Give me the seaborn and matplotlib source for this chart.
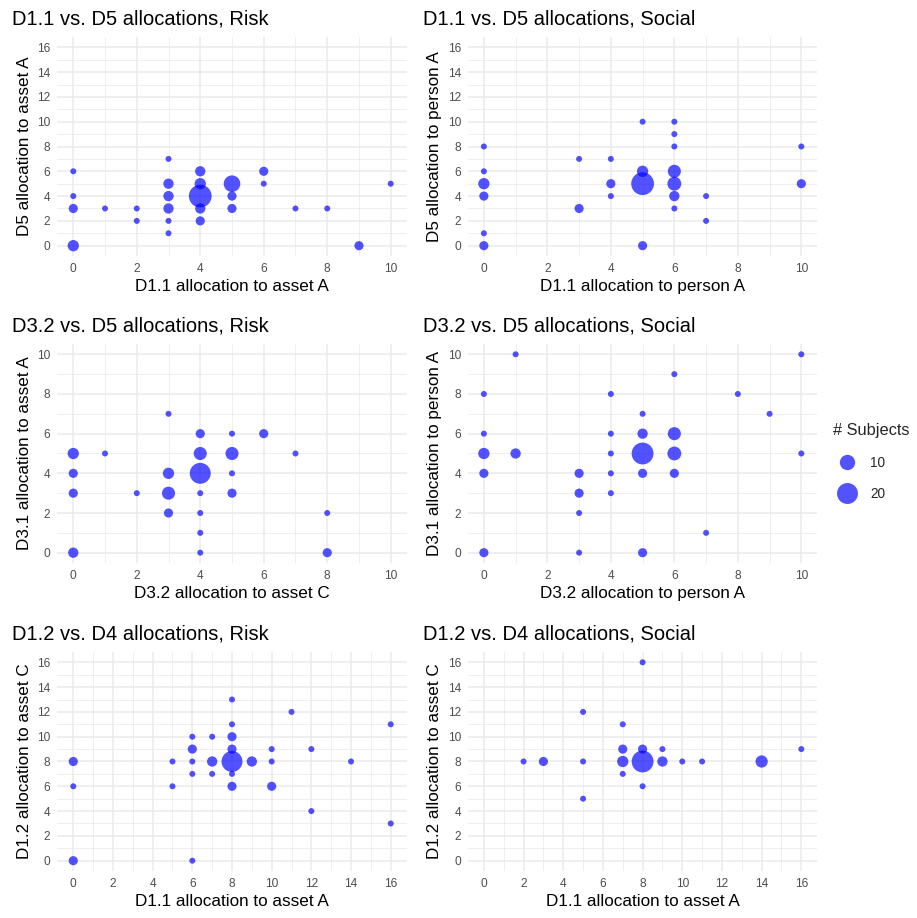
import numpy as np
import pandas as pd
import matplotlib
matplotlib.use("Agg")
import matplotlib.pyplot as plt
from matplotlib.lines import Line2D
import seaborn as sns

# Panel data: x, y, number of subjects at each point
risk_d11_d5_x = [0, 0, 0, 0, 1, 2, 2, 3, 3, 3, 3, 3, 3, 4, 4, 4, 4, 4, 5, 5, 5, 6, 6, 7, 8, 9, 10]
risk_d11_d5_y = [6, 4, 3, 0, 3, 3, 2, 7, 5, 4, 3, 2, 1, 6, 5, 4, 3, 2, 5, 4, 3, 6, 5, 3, 3, 0, 5]
risk_d11_d5_n = [1, 1, 3, 5, 1, 1, 1, 1, 4, 4, 4, 1, 1, 4, 5, 24, 4, 3, 12, 3, 3, 3, 1, 1, 1, 3, 1]

soc_d11_d5_x = [0, 0, 0, 0, 0, 0, 3, 3, 4, 4, 4, 5, 5, 5, 5, 6, 6, 6, 6, 6, 6, 6, 7, 7, 10, 10]
soc_d11_d5_y = [8, 6, 5, 4, 1, 0, 7, 3, 7, 5, 4, 10, 6, 5, 0, 10, 9, 8, 6, 5, 4, 3, 4, 2, 8, 5]
soc_d11_d5_n = [1, 1, 5, 3, 1, 3, 1, 3, 1, 3, 1, 1, 5, 24, 3, 1, 1, 1, 7, 8, 4, 1, 1, 1, 1, 3]

risk_d32_d31_x = [0, 0, 0, 0, 1, 2, 3, 3, 3, 3, 4, 4, 4, 4, 4, 4, 4, 5, 5, 5, 5, 6, 7, 8, 8]
risk_d32_d31_y = [5, 4, 3, 0, 5, 3, 7, 4, 3, 2, 6, 5, 4, 3, 2, 1, 0, 6, 5, 4, 3, 6, 5, 2, 0]
risk_d32_d31_n = [5, 3, 3, 4, 1, 1, 1, 5, 7, 3, 3, 7, 20, 1, 1, 1, 1, 1, 7, 1, 3, 3, 1, 1, 3]

soc_d32_d31_x = [0, 0, 0, 0, 0, 1, 1, 3, 3, 3, 3, 4, 4, 4, 4, 4, 5, 5, 5, 5, 5, 6, 6, 6, 6, 7, 8, 9, 10, 10]
soc_d32_d31_y = [8, 6, 5, 4, 0, 10, 5, 4, 3, 2, 0, 8, 6, 5, 4, 3, 7, 6, 5, 4, 0, 9, 6, 5, 4, 1, 8, 7, 10, 5]
soc_d32_d31_n = [1, 1, 5, 3, 3, 1, 4, 3, 3, 1, 1, 1, 1, 1, 1, 1, 1, 4, 22, 3, 3, 1, 7, 8, 3, 1, 1, 1, 1, 1]

risk_d11_d12_x = [0, 0, 0, 5, 5, 6, 6, 6, 6, 6, 7, 7, 7, 8, 8, 8, 8, 8, 8, 8, 9, 10, 10, 10, 11, 12, 12, 14, 16, 16]
risk_d11_d12_y = [8, 6, 0, 8, 6, 10, 9, 8, 7, 0, 10, 8, 7, 13, 11, 10, 9, 8, 7, 6, 8, 9, 8, 6, 12, 9, 4, 8, 11, 3]
risk_d11_d12_n = [3, 1, 3, 1, 1, 1, 3, 1, 1, 1, 1, 4, 1, 1, 1, 3, 3, 20, 1, 3, 4, 1, 1, 3, 1, 1, 1, 1, 1, 1]

soc_d11_d12_x = [2, 3, 5, 5, 5, 7, 7, 7, 7, 8, 8, 8, 8, 9, 9, 10, 11, 14, 16]
soc_d11_d12_y = [8, 8, 12, 8, 5, 11, 9, 8, 7, 16, 9, 8, 6, 9, 8, 8, 8, 8, 9]
soc_d11_d12_n = [1, 3, 1, 1, 1, 1, 3, 5, 1, 1, 3, 22, 1, 1, 4, 1, 1, 6, 1]

titles = ["D1.1 vs. D5 allocations, Risk", "D1.1 vs. D5 allocations, Social",
          "D3.2 vs. D5 allocations, Risk", "D3.2 vs. D5 allocations, Social",
          "D1.2 vs. D4 allocations, Risk", "D1.2 vs. D4 allocations, Social"]
xlabels = ["D1.1 allocation to asset A", "D1.1 allocation to person A",
           "D3.2 allocation to asset C", "D3.2 allocation to person A",
           "D1.1 allocation to asset A", "D1.1 allocation to asset A"]
ylabels = ["D5 allocation to asset A", "D5 allocation to person A",
           "D3.1 allocation to asset A", "D3.1 allocation to person A",
           "D1.2 allocation to asset C", "D1.2 allocation to asset C"]
xmax = [10, 10, 10, 10, 16, 16]
ymax = [16, 16, 10, 10, 16, 16]
legend_breaks = [10, 20]

panels = [
    (risk_d11_d5_x, risk_d11_d5_y, risk_d11_d5_n),
    (soc_d11_d5_x, soc_d11_d5_y, soc_d11_d5_n),
    (risk_d32_d31_x, risk_d32_d31_y, risk_d32_d31_n),
    (soc_d32_d31_x, soc_d32_d31_y, soc_d32_d31_n),
    (risk_d11_d12_x, risk_d11_d12_y, risk_d11_d12_n),
    (soc_d11_d12_x, soc_d11_d12_y, soc_d11_d12_n),
]

sns.set_theme(style="white")
plt.rcParams['font.family'] = ['Liberation Sans', 'DejaVu Sans']

DPI = 100
W, H = 917, 918


def diam_pt(n):
    # ggplot-like size scale: diameter linear in sqrt(count)
    px = 6 + 4.3 * (np.sqrt(n) - 1)
    return px * 72 / DPI


def area(n):
    return diam_pt(n) ** 2


point_color = (0, 0, 1, 0.68)

fig = plt.figure(figsize=(W / DPI, H / DPI), dpi=DPI)

col_left = [57.4, 468.0]
row_top = [37.4, 344.4, 652.4]
ax_w, ax_h = 349.2, 218.2

for i, (xs, ys, ns) in enumerate(panels):
    r, c = divmod(i, 2)
    left = col_left[c] / W
    bottom = 1 - (row_top[r] + ax_h) / H
    ax = fig.add_axes([left, bottom, ax_w / W, ax_h / H])
    df = pd.DataFrame({"x": xs, "y": ys, "n": ns})
    sizes = {v: area(v) for v in sorted(df["n"].unique())}
    sns.scatterplot(data=df, x="x", y="y", size="n", sizes=sizes,
                    color=point_color[:3], alpha=0.68, linewidth=0,
                    legend=False, ax=ax, zorder=3)
    xm, ym = xmax[i], ymax[i]
    ax.set_xlim(-0.05 * xm, xm * 1.05)
    ax.set_ylim(-0.05 * ym, ym * 1.05)
    ax.set_xticks(np.arange(0, xm + 1, 2))
    ax.set_yticks(np.arange(0, ym + 1, 2))
    ax.set_xticks(np.arange(1, xm, 2), minor=True)
    ax.set_yticks(np.arange(1, ym, 2), minor=True)
    ax.grid(which="major", color="#EBEBEB", linewidth=1.1, zorder=0)
    ax.grid(which="minor", color="#EBEBEB", linewidth=0.55, zorder=0)
    ax.set_axisbelow(True)
    for s in ax.spines.values():
        s.set_visible(False)
    ax.tick_params(which="both", length=0, labelsize=8.6, labelcolor="#4D4D4D", pad=5)
    ax.set_xlabel(xlabels[i], fontsize=12.3, color="black", labelpad=3)
    ax.set_ylabel(ylabels[i], fontsize=12.3, color="black", labelpad=4)
    tx = 12 if c == 0 else 423
    fig.text(tx / W, 1 - (row_top[r] - 13) / H, titles[i], fontsize=14.5,
             ha="left", va="baseline", color="black")

# size legend
handles = [Line2D([], [], marker="o", linestyle="", markersize=diam_pt(v),
                  markerfacecolor=point_color, markeredgewidth=0)
           for v in legend_breaks]
leg = fig.legend(handles, [str(v) for v in legend_breaks], title="# Subjects",
                 loc="center left", bbox_to_anchor=(828 / W, 1 - 462 / H),
                 frameon=False, fontsize=9.8, title_fontsize=11.8,
                 handletextpad=0.7, labelspacing=1.3, borderaxespad=0)
leg._legend_box.align = "left"

fig.savefig("out.png", dpi=DPI)
